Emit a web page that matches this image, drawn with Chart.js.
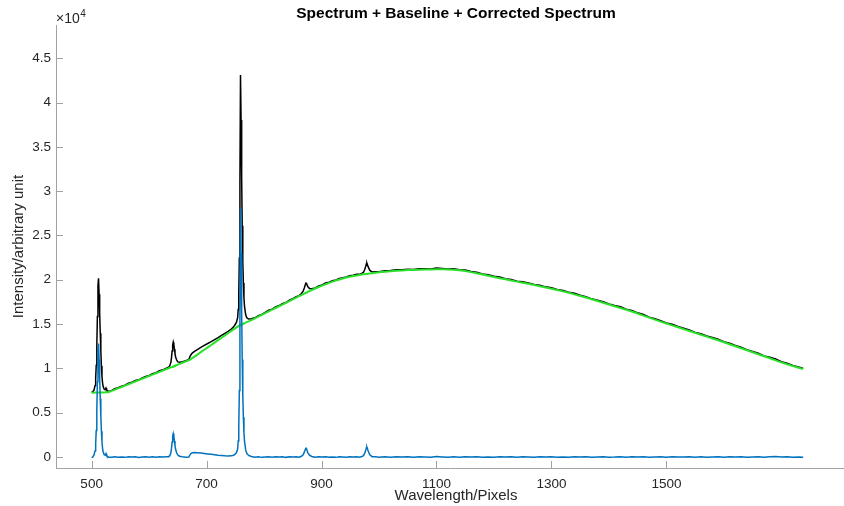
<!DOCTYPE html>
<html>
<head>
<meta charset="utf-8">
<script src="https://cdn.jsdelivr.net/npm/chart.js@4"></script>
<style>
  html, body { margin: 0; padding: 0; background: #fff; }
  canvas { display: block; }
</style>
</head>
<body>
<canvas id="spectrumChart" width="844" height="506"></canvas>
<script>
// wavelength / pixel positions (x)
const wavelength = [
  500, 502, 504, 506, 507, 508, 509, 510, 511, 512, 513, 514, 515, 516, 517, 518, 519, 520, 522, 524, 525, 526, 528, 530,
  535, 540, 546, 552, 558, 564, 570, 576, 582, 588, 594, 600, 606, 612, 618, 624, 630,
  634, 636, 638, 639, 640, 641, 642, 643, 644, 645, 646, 648, 650, 653, 658, 664, 669,
  672, 675, 679, 684, 690, 696, 702, 708, 714, 720, 726, 732, 738, 743, 747,
  750, 752, 754, 755, 756, 757, 758, 759, 760, 761, 762, 763, 764, 765, 766, 768, 770, 773,
  778, 784, 790, 796, 802, 808, 814, 820, 826, 832, 838, 844, 850, 856, 861,
  865, 868, 870, 872, 873, 874, 876, 879, 883,
  889, 895, 901, 907, 913, 919, 925, 931, 937, 943, 949, 955, 961, 966,
  970, 973, 975, 977, 978, 979, 981, 984, 988, 994,
  1000, 1010, 1020, 1030, 1040, 1050, 1060, 1070, 1080, 1090, 1100,
  1110, 1120, 1130, 1140, 1150, 1160, 1170, 1180, 1190, 1200,
  1210, 1220, 1230, 1240, 1250, 1260, 1270, 1280, 1290, 1300,
  1310, 1320, 1330, 1340, 1350, 1360, 1370, 1380, 1390, 1400,
  1410, 1420, 1430, 1440, 1450, 1460, 1470, 1480, 1490, 1500,
  1510, 1520, 1530, 1540, 1550, 1560, 1570, 1580, 1590, 1600,
  1610, 1620, 1630, 1640, 1650, 1660, 1670, 1680, 1690, 1700,
  1710, 1720, 1730, 1738
];

// raw spectrum (black)
const rawSpectrum = [
  7290, 7372, 7554, 8056, 8857, 10358, 12559, 15860, 19361, 20162, 18363, 16164, 13965, 11966, 10267, 9068, 8369, 7970, 7630, 7610, 7775, 7600, 7450, 7400,
  7519, 7718, 7813, 7998, 8103, 8328, 8443, 8628, 8713, 8918, 9102, 9197, 9402, 9517, 9732, 9837, 10032,
  10145, 10307, 10709, 11234, 11960, 12636, 12962, 12688, 12163, 11689, 11315, 10917, 10738, 10686, 10755, 10860, 11009,
  11455, 11721, 11922, 12127, 12368, 12589, 12810, 13031, 13252, 13473, 13714, 13955, 14206, 14442, 14693,
  14978, 15219, 15709, 16654, 18399, 22444, 30990, 43116, 38043, 31569, 26096, 22122, 19649, 17975, 17002, 16055, 15708, 15567,
  15598, 15713, 15959, 16084, 16330, 16556, 16681, 16927, 17092, 17308, 17435, 17693, 17871, 18099, 18214,
  18446, 18715, 19081, 19497, 19630, 19563, 19230, 19020, 18998,
  19080, 19295, 19425, 19630, 19720, 19890, 19970, 20160, 20240, 20310, 20450, 20500, 20610, 20615,
  20725, 20854, 21123, 21542, 21801, 21860, 21478, 21054, 20878, 20906,
  20900, 21025, 21035, 21145, 21135, 21200, 21165, 21255, 21240, 21225, 21315,
  21278, 21230, 21245, 21120, 21110, 20945, 20850, 20655, 20555, 20390,
  20310, 20130, 20030, 19840, 19785, 19630, 19470, 19375, 19200, 19110,
  18905, 18790, 18590, 18470, 18250, 18100, 17850, 17700, 17525, 17280,
  17105, 16950, 16685, 16535, 16270, 16080, 15780, 15600, 15390, 15130,
  14985, 14720, 14520, 14335, 14055, 13905, 13660, 13480, 13290, 13015,
  12840, 12580, 12400, 12115, 11905, 11710, 11415, 11250, 11060, 10765,
  10580, 10327, 10174, 9990
];

// fitted baseline (green)
const baseline = [
  7260, 7262, 7264, 7266, 7267, 7268, 7269, 7270, 7271, 7272, 7273, 7274, 7275, 7276, 7277, 7278, 7279, 7280, 7290, 7300, 7305, 7310, 7320, 7330,
  7459, 7588, 7743, 7898, 8053, 8208, 8363, 8518, 8673, 8828, 8982, 9137, 9292, 9447, 9602, 9757, 9912,
  10015, 10067, 10119, 10144, 10170, 10196, 10222, 10248, 10273, 10299, 10325, 10377, 10428, 10506, 10635, 10790, 10919,
  11015, 11151, 11332, 11557, 11828, 12099, 12370, 12641, 12912, 13183, 13454, 13725, 13996, 14222, 14403,
  14538, 14629, 14719, 14764, 14809, 14854, 14900, 14926, 14953, 14979, 15006, 15032, 15059, 15085, 15112, 15165, 15218, 15297,
  15448, 15643, 15839, 16034, 16230, 16426, 16621, 16817, 17012, 17188, 17385, 17583, 17781, 17979, 18144,
  18276, 18375, 18441, 18507, 18540, 18573, 18640, 18730, 18848,
  19020, 19185, 19345, 19500, 19650, 19790, 19920, 20040, 20150, 20250, 20340, 20420, 20490, 20545,
  20585, 20614, 20633, 20652, 20661, 20670, 20688, 20714, 20748, 20796,
  20840, 20905, 20965, 21015, 21055, 21090, 21115, 21135, 21150, 21165, 21175,
  21178, 21160, 21125, 21070, 21000, 20865, 20730, 20595, 20455, 20320,
  20180, 20050, 19920, 19790, 19665, 19540, 19410, 19265, 19120, 18980,
  18835, 18690, 18530, 18350, 18170, 17990, 17800, 17600, 17405, 17210,
  17015, 16820, 16625, 16425, 16190, 15960, 15730, 15500, 15280, 15070,
  14855, 14640, 14430, 14215, 14005, 13795, 13590, 13380, 13170, 12955,
  12730, 12500, 12270, 12045, 11815, 11590, 11365, 11140, 10910, 10685,
  10460, 10267, 10074, 9920
];

// baseline-corrected spectrum (blue)
const corrected = [
  -60, 20, 200, 700, 1500, 3000, 5200, 8500, 12000, 12800, 11000, 8800, 6600, 4600, 2900, 1700, 1000, 600, 250, 220, 380, 200, 40, -20,
  -30, 40, -20, 10, -40, 30, -10, 20, -50, 0, 30, -30, 20, -20, 40, -10, 30,
  40, 150, 500, 1000, 1700, 2350, 2650, 2350, 1800, 1300, 900, 450, 220, 90, 30, -20, 0,
  350, 480, 500, 480, 450, 400, 350, 300, 250, 200, 170, 140, 120, 130, 200,
  350, 500, 900, 1800, 3500, 7500, 16000, 28100, 23000, 16500, 11000, 7000, 4500, 2800, 1800, 800, 400, 180,
  60, -20, 30, -40, 10, 40, -30, 20, -10, 30, -40, 20, 0, 30, -20,
  80, 250, 550, 900, 1000, 900, 500, 200, 60,
  -30, 20, -10, 40, -20, 10, -40, 30, 0, -30, 20, -10, 30, -20,
  50, 150, 400, 800, 1050, 1100, 700, 250, 40, 20,
  -30, 30, -20, 40, -10, 20, -40, 30, 0, -30, 50,
  10, -20, 30, -40, 20, -10, 30, -30, 10, -20,
  40, -10, 20, -40, 30, 0, -30, 20, -10, 40,
  -20, 10, -30, 30, -10, 20, -40, 10, 30, -20,
  0, 40, -30, 20, -10, 30, -40, 10, 20, -30,
  40, -10, 0, 30, -40, 20, -20, 10, 30, -30,
  20, -10, 40, -20, 0, 30, -40, 20, 60, -10,
  30, -30, 10, -20
];

const xTickValues = [500, 700, 900, 1100, 1300, 1500];
const yTickValues = [0, 5000, 10000, 15000, 20000, 25000, 30000, 35000, 40000, 45000];

const chartTitle = 'Spectrum + Baseline + Corrected Spectrum';
const xLabel = 'Wavelength/Pixels';
const yLabel = 'Intensity/arbitrary unit';

const FONT = '"Liberation Sans", Arial, Helvetica, sans-serif';
const axisGrey = '#a2a2a2';
const textColour = '#262626';
// the original figure was cropped: its axes run ~12px past the right edge
const cropOverhang = 12;

Chart.defaults.font.family = FONT;
Chart.defaults.color = textColour;

function toPoints(ys) {
  return wavelength.map((x, i) => ({ x: x, y: ys[i] }));
}

// MATLAB style inward ticks, the x10^4 exponent, title and x label
const matlabAxes = {
  id: 'matlabAxes',
  afterDraw(chart) {
    const { ctx, chartArea, scales } = chart;
    ctx.save();
    ctx.strokeStyle = axisGrey;
    ctx.lineWidth = 1;
    ctx.beginPath();
    scales.x.ticks.forEach(t => {
      const px = Math.round(scales.x.getPixelForValue(t.value)) + 0.5;
      ctx.moveTo(px, chartArea.bottom);
      ctx.lineTo(px, chartArea.bottom - 7);
    });
    scales.y.ticks.forEach(t => {
      const py = Math.round(scales.y.getPixelForValue(t.value)) + 0.5;
      ctx.moveTo(chartArea.left, py);
      ctx.lineTo(chartArea.left + 7, py);
    });
    ctx.stroke();

    ctx.fillStyle = textColour;
    ctx.textAlign = 'left';
    ctx.textBaseline = 'alphabetic';
    ctx.font = '14px ' + FONT;
    ctx.fillText('\u00d710', chartArea.left, chartArea.top - 2);
    const w = ctx.measureText('\u00d710').width;
    ctx.font = '10px ' + FONT;
    ctx.fillText('4', chartArea.left + w + 0.5, chartArea.top - 8);

    const midX = (chartArea.left + chartArea.right + cropOverhang) / 2;
    ctx.textAlign = 'center';
    ctx.font = '15px ' + FONT;
    ctx.fillText(xLabel, midX, 500);
    ctx.fillStyle = '#000000';
    ctx.font = 'bold 15.5px ' + FONT;
    ctx.fillText(chartTitle, midX, 18);
    ctx.restore();
  }
};

new Chart(document.getElementById('spectrumChart'), {
  type: 'line',
  data: {
    datasets: [
      {
        label: 'Spectrum',
        data: toPoints(rawSpectrum),
        borderColor: '#000000',
        borderWidth: 1.5,
        pointRadius: 0,
        tension: 0,
        order: 3
      },
      {
        label: 'Baseline',
        data: toPoints(baseline),
        borderColor: 'rgb(40, 225, 40)',
        borderWidth: 2,
        pointRadius: 0,
        tension: 0,
        order: 2
      },
      {
        label: 'Corrected Spectrum',
        data: toPoints(corrected),
        borderColor: '#0072BD',
        borderWidth: 1.5,
        pointRadius: 0,
        tension: 0,
        order: 1
      }
    ]
  },
  options: {
    responsive: false,
    devicePixelRatio: 1,
    animation: false,
    layout: { padding: { left: 0, right: 0, top: 25, bottom: 0 } },
    plugins: {
      legend: { display: false },
      tooltip: { enabled: false }
    },
    scales: {
      x: {
        type: 'linear',
        position: 'bottom',
        min: 438,
        max: 1809,
        grid: { display: false, drawTicks: false },
        border: { display: true, color: axisGrey, width: 1 },
        ticks: {
          padding: 8,
          font: { size: 13.5 },
          color: textColour,
          maxRotation: 0,
          callback: v => String(v)
        },
        afterBuildTicks: scale => { scale.ticks = xTickValues.map(v => ({ value: v })); },
        afterFit: scale => { scale.height = 38; }
      },
      y: {
        type: 'linear',
        position: 'left',
        min: -1240,
        max: 48750,
        grid: { display: false, drawTicks: false },
        border: { display: true, color: axisGrey, width: 1 },
        ticks: {
          padding: 5,
          font: { size: 13.5 },
          color: textColour,
          callback: v => String(v / 10000)
        },
        afterBuildTicks: scale => { scale.ticks = yTickValues.map(v => ({ value: v })); },
        afterFit: scale => { scale.width = 56; },
        title: {
          display: true,
          text: yLabel,
          font: { size: 15 },
          color: textColour,
          padding: { top: 10, bottom: 0 }
        }
      }
    }
  },
  plugins: [matlabAxes]
});
</script>
</body>
</html>
